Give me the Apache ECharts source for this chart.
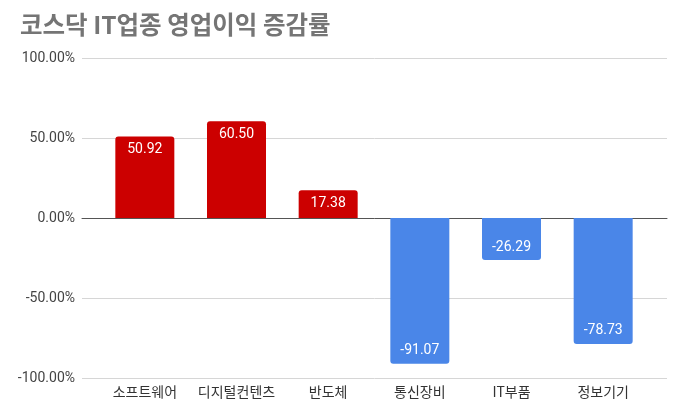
<!DOCTYPE html>
<html><head><meta charset="utf-8">
<script src="https://cdn.jsdelivr.net/npm/echarts@6/dist/echarts.min.js"></script>
<style>html,body{margin:0;padding:0;background:#fff}#c{width:680px;height:407px}</style>
</head><body><div id="c"></div>
<script>
const titleText = '코스닥 IT업종 영업이익 증감률';
const categories = ['소프트웨어', '디지털컨텐츠', '반도체', '통신장비', 'IT부품', '정보기기'];
const values = [50.92, 60.50, 17.38, -91.07, -26.29, -78.73];
const yTicks = [-100, -50, 0, 50, 100];

const posColor = '#cc0000', negColor = '#4a86e8';
const font = '"Noto Sans CJK KR", Roboto, sans-serif';
const chart = echarts.init(document.getElementById('c'));
chart.setOption({
  animation: false,
  title: { text: titleText, left: 15, top: 7, textStyle: { fontFamily: font, fontSize: 24.5, fontWeight: 'bold', color: '#757575' } },
  grid: [
    { left: 82, right: 13, top: 58, bottom: 29 },
    { left: 99, right: 31, top: 58, bottom: 29 }
  ],
  xAxis: [
    { gridIndex: 0, type: 'category', data: categories,
      axisLine: { show: true, onZero: true, lineStyle: { color: '#555', width: 1 } },
      axisTick: { show: false }, axisLabel: { show: false } },
    { gridIndex: 1, type: 'category', data: categories,
      axisLine: { show: false }, axisTick: { show: false },
      axisLabel: { interval: 0, margin: 7, fontFamily: font, fontSize: 14, color: '#333' } }
  ],
  yAxis: [
    { gridIndex: 0, type: 'value', min: yTicks[0], max: yTicks[yTicks.length - 1], interval: 50,
      axisLine: { show: false }, axisTick: { show: false },
      splitLine: { lineStyle: { color: '#d6d6d6' } },
      axisLabel: { margin: 7, fontFamily: 'Roboto, sans-serif', fontSize: 14, color: '#444', formatter: v => v.toFixed(2) + '%' } },
    { gridIndex: 1, type: 'value', min: yTicks[0], max: yTicks[yTicks.length - 1], interval: 50, show: false }
  ],
  series: [{
    type: 'bar', xAxisIndex: 1, yAxisIndex: 1, barWidth: 59,
    data: values.map(v => ({
      value: v,
      itemStyle: { color: v >= 0 ? posColor : negColor, borderRadius: v >= 0 ? [3, 3, 0, 0] : [0, 0, 3, 3] },
      label: { position: v >= 0 ? 'insideTop' : 'insideBottom' }
    })),
    label: { show: true, distance: 6, color: '#fff', fontFamily: 'Roboto, sans-serif', fontSize: 14, formatter: p => p.value.toFixed(2) }
  }]
});
</script></body></html>
